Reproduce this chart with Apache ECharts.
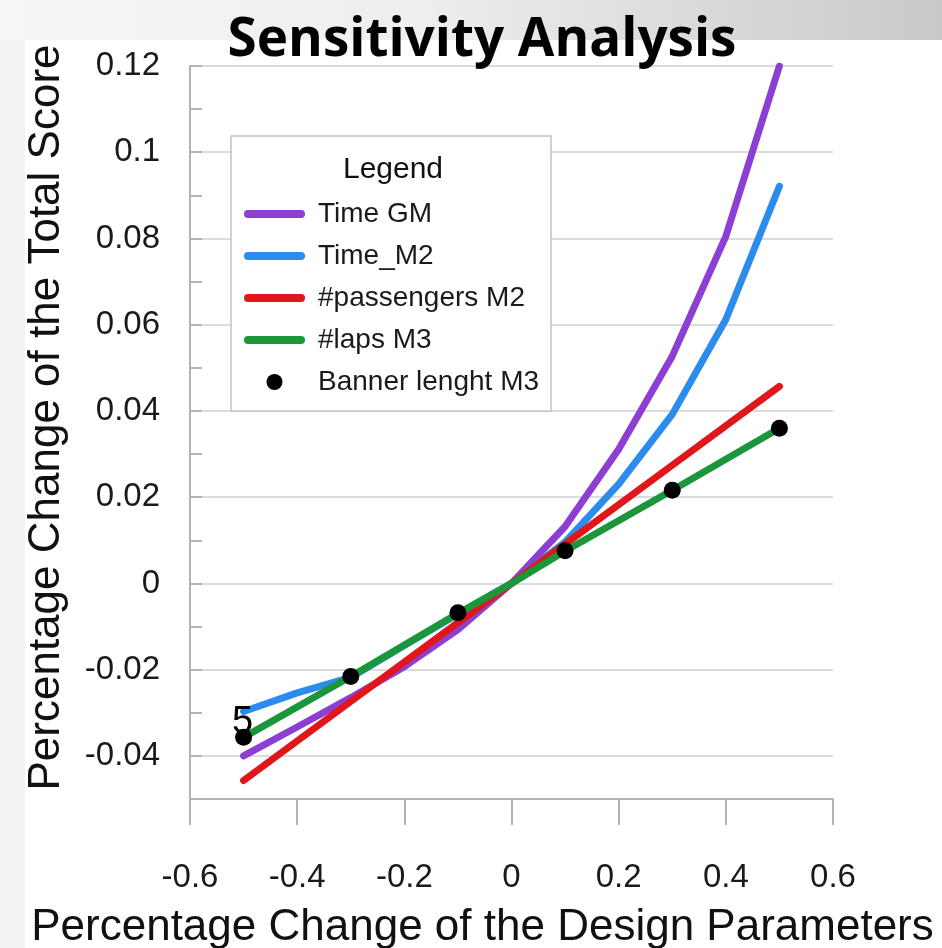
<!DOCTYPE html>
<html>
<head>
<meta charset="utf-8">
<script src="https://cdn.jsdelivr.net/npm/echarts@6/dist/echarts.min.js"></script>
<style>
  html, body { margin: 0; padding: 0; background: #ffffff; }
  #chart { width: 942px; height: 948px; }
</style>
</head>
<body>
<div id="chart"></div>
<script>
// Sensitivity of the total score to changes of the design parameters
const seriesNames = ['Time GM', 'Time_M2', '#passengers M2', '#laps M3', 'Banner lenght M3'];
const seriesColors = ['#8e3fd3', '#2b8cee', '#e0161b', '#1c963b', '#000000'];

// parameter change steps
const xCurve = [-0.5, -0.4, -0.3, -0.2, -0.1, 0, 0.1, 0.2, 0.3, 0.4, 0.5];
const xLinear = [-0.5, -0.3, -0.1, 0, 0.1, 0.3, 0.5];
const xBanner = [-0.5, -0.3, -0.1, 0.1, 0.3, 0.5];

const timeGM = [-0.0400, -0.0333, -0.0265, -0.0193, -0.0107, 0, 0.0132, 0.0311, 0.0527, 0.0805, 0.1200];
const timeM2 = [-0.0297, -0.0254, -0.0218, -0.0144, -0.0071, 0, 0.0096, 0.0230, 0.0392, 0.0612, 0.0921];
const passengersM2 = [-0.0457, -0.0274, -0.0091, 0, 0.0091, 0.0274, 0.0457];
const lapsM3 = [-0.0357, -0.0216, -0.0070, 0, 0.0075, 0.0216, 0.0360];
const bannerM3 = [-0.0357, -0.0216, -0.0068, 0.0076, 0.0216, 0.0360];

const xTicks = { min: -0.6, max: 0.6, step: 0.2 };
const yTicks = { min: -0.05, max: 0.12, step: 0.01 };

const pair = (xs, ys) => xs.map((x, i) => [x, ys[i]]);

const chart = echarts.init(document.getElementById('chart'), null, { renderer: 'canvas' });

const axisGrey = '#b3b3b3';
const textFont = 'Liberation Sans, Arial, sans-serif';
const capsule = 'path://M4,0L57,0A4,4,0,0,1,57,8L4,8A4,4,0,0,1,4,0Z';

function lineSeries(idx, xs, ys) {
  return {
    name: seriesNames[idx],
    type: 'line',
    data: pair(xs, ys),
    color: seriesColors[idx],
    showSymbol: false,
    symbol: 'none',
    smooth: false,
    z: 3 + idx,
    lineStyle: { width: 7, color: seriesColors[idx], cap: 'round', join: 'round' },
    emphasis: { disabled: true }
  };
}

const bannerData = pair(xBanner, bannerM3).map((p, i) => i === 0 ? {
  value: p,
  label: {
    show: true, formatter: '5', position: 'inside', offset: [-1, -15],
    fontSize: 38, color: '#000', fontFamily: textFont
  }
} : p);

chart.setOption({
  backgroundColor: '#ffffff',
  animation: false,
  title: {
    text: 'Sensitivity Analysis',
    left: 477,
    textAlign: 'center',
    top: 9,
    textStyle: { fontFamily: 'Open Sans, sans-serif', fontWeight: 700, fontSize: 53, color: '#000' }
  },
  graphic: [
    { type: 'rect', z: -10, shape: { x: 0, y: 0, width: 942, height: 948 }, style: { fill: '#f3f3f3' } },
    { type: 'rect', z: -9, shape: { x: 25, y: 40, width: 917, height: 908 }, style: { fill: '#ffffff' } },
    { type: 'rect', z: -9, shape: { x: 0, y: 0, width: 942, height: 40 },
      style: { fill: new echarts.graphic.LinearGradient(0, 0, 1, 0, [
        { offset: 0, color: '#f6f6f6' }, { offset: 0.45, color: '#eeeeee' }, { offset: 1, color: '#c9c9c9' }
      ]) } },
    { type: 'text', z: 20, style: {
        text: 'Legend', x: 393, y: 170, textAlign: 'center', textVerticalAlign: 'middle',
        fontSize: 30, fontFamily: textFont, fill: '#111'
      } }
  ],
  grid: { left: 190, right: 109, top: 66, bottom: 149, containLabel: false, outerBoundsMode: 'none' },
  legend: {
    orient: 'vertical',
    left: 231,
    top: 136,
    padding: [64, 12, 15, 13],
    backgroundColor: '#ffffff',
    borderColor: '#c4c4c4',
    borderWidth: 1.5,
    itemWidth: 61,
    itemHeight: 16,
    itemGap: 14,
    selectedMode: false,
    textStyle: { fontSize: 28, lineHeight: 28, color: '#1a1a1a', fontFamily: textFont, padding: [0, 0, 0, 8] },
    data: [
      { name: seriesNames[0], icon: capsule },
      { name: seriesNames[1], icon: capsule },
      { name: seriesNames[2], icon: capsule },
      { name: seriesNames[3], icon: capsule },
      { name: seriesNames[4], icon: 'circle' }
    ]
  },
  xAxis: {
    type: 'value',
    min: xTicks.min, max: xTicks.max, interval: xTicks.step,
    name: 'Percentage Change of the Design Parameters',
    nameLocation: 'middle',
    nameGap: 107,
    nameTextStyle: { fontSize: 44, color: '#111', fontFamily: textFont, padding: [0, 58, 0, 0] },
    axisLine: { show: true, onZero: false, lineStyle: { color: axisGrey, width: 2 } },
    axisTick: { show: true, inside: false, length: 26, lineStyle: { color: axisGrey, width: 2 } },
    axisLabel: { margin: 62, fontSize: 33, color: '#1a1a1a', fontFamily: textFont,
      formatter: v => String(parseFloat(v.toFixed(2))) },
    splitLine: { show: false }
  },
  yAxis: {
    type: 'value',
    min: yTicks.min, max: yTicks.max, interval: yTicks.step,
    name: 'Percentage Change of the Total Score',
    nameLocation: 'middle',
    nameGap: 121,
    nameTextStyle: { fontSize: 44, color: '#111', fontFamily: textFont, padding: [0, 0, 0, 30] },
    axisLine: { show: true, onZero: false, lineStyle: { color: axisGrey, width: 2 } },
    axisTick: { show: true, inside: true, length: 12, lineStyle: { color: axisGrey, width: 2 } },
    axisLabel: {
      margin: 30, fontSize: 33, color: '#1a1a1a', fontFamily: textFont,
      formatter: v => {
        const h = Math.round(v * 100);
        return h % 2 === 0 ? String(parseFloat(v.toFixed(2))) : '';
      }
    },
    splitLine: { show: true, showMinLine: true, showMaxLine: true,
      lineStyle: { color: ['rgba(0,0,0,0)', '#dcdcdc'], width: 2 } }
  },
  series: [
    lineSeries(0, xCurve, timeGM),
    lineSeries(1, xCurve, timeM2),
    lineSeries(2, xLinear, passengersM2),
    lineSeries(3, xLinear, lapsM3),
    {
      name: seriesNames[4],
      type: 'scatter',
      data: bannerData,
      color: '#000000',
      symbol: 'circle',
      symbolSize: 17,
      z: 10,
      itemStyle: { color: '#000000', opacity: 1 },
      emphasis: { disabled: true }
    }
  ]
});
</script>
</body>
</html>
